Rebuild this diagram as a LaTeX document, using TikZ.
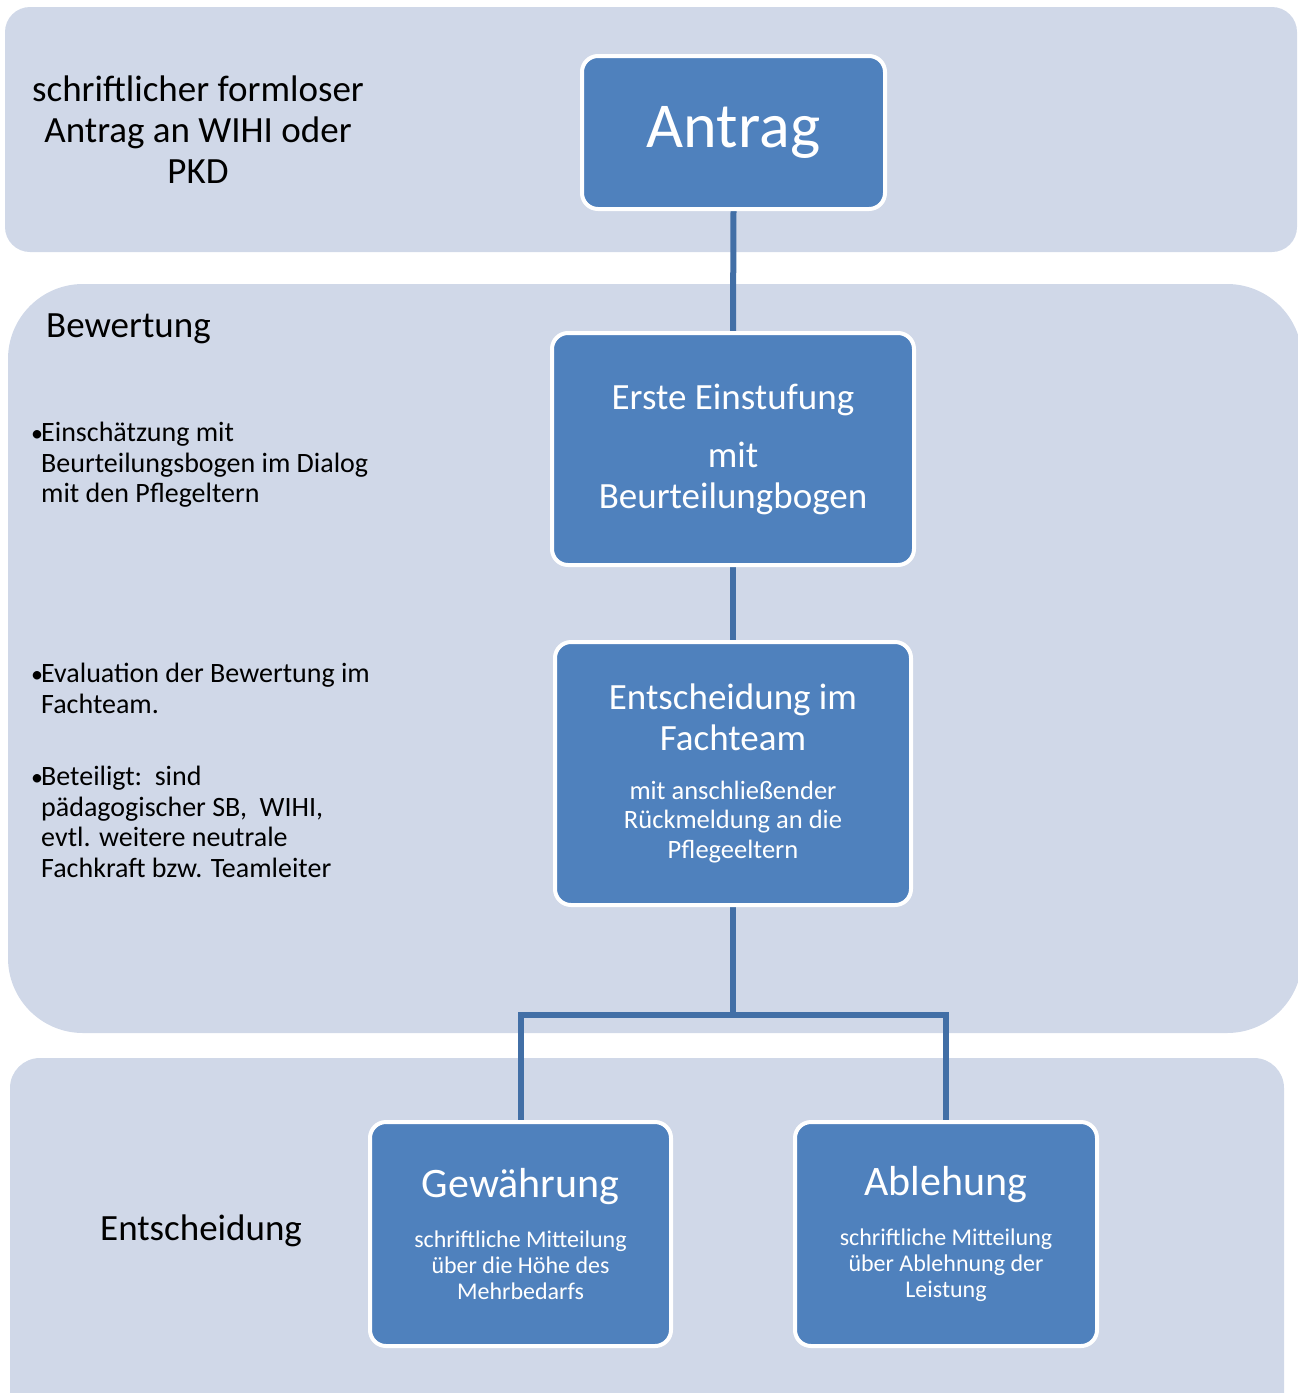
\documentclass[tikz,border=0pt]{standalone}
\usepackage{fontspec}
\setmainfont{Carlito}
\usepackage{tikz}
\usetikzlibrary{backgrounds}
\definecolor{BandGrey}{HTML}{D0D8E8}
\definecolor{BoxBlue}{HTML}{4F81BD}
\definecolor{LinkBlue}{HTML}{426FA6}
\pgfdeclarelayer{links}
\pgfsetlayers{background,links,main}
\newcommand{\bulletline}{\leftskip=11pt\noindent\llap{\makebox[11pt][l]{\hspace{1pt}\fontsize{24}{24}\selectfont •}}}
\tikzset{
  % Box styles
  stagebox/.style={rectangle, rounded corners=16pt, draw=white, line width=4pt, fill=BoxBlue, text=white, align=flush center, inner sep=0pt, font={\fontsize{37}{41}\selectfont}},
  bandbox/.style={fill=BandGrey},
  % Text styles
  sidetext/.style={inner sep=0pt, text=black, align=flush left, font={\fontsize{37}{41}\selectfont}},
  pointtext/.style={sidetext, anchor=north west, text width=370pt, font={\fontsize{28}{30.5}\selectfont}},
  % Arrow styles
  link/.style={draw=LinkBlue, line width=6pt}
}

\begin{document}
\begin{tikzpicture}[x=1pt, y=-1pt]
  \useasboundingbox (0,0) rectangle (1298,1393);
  \clip (0,0) rectangle (1298,1393);

  % Bands
  \begin{scope}[on background layer]
    \fill[bandbox, rounded corners=25pt] (5,7) rectangle (1297,252);
    \fill[bandbox, rounded corners=75pt] (8,284) rectangle (1302,1033);
    \fill[bandbox, rounded corners=30pt] (10,1058) rectangle (1284,1430);
  \end{scope}

  % Left column texts
  \node[sidetext, align=center] (antragtext) at (198,130)
    {schriftlicher formloser\\Antrag an WIHI oder\\PKD};
  \node[sidetext, anchor=base west] (bewertung) at (46,337) {Bewertung};
  \node[pointtext] (punkteins) at (30,422)
    {\bulletline Einschätzung mit\\Beurteilungsbogen im Dialog\\mit den Pflegeltern\par};
  \node[pointtext] (punktzwei) at (30,663)
    {\bulletline Evaluation der Bewertung im\\Fachteam.\par};
  \node[pointtext] (punktdrei) at (30,766)
    {\bulletline Beteiligt:\ \ sind\\pädagogischer SB,\ \ WIHI,\\evtl. weitere neutrale\\Fachkraft bzw. Teamleiter\par};
  \node[sidetext, anchor=base west] (entscheidung) at (100,1240) {Entscheidung};

  % Process boxes
  \node[stagebox, minimum width=303pt, minimum height=153pt, font={\fontsize{64}{70}\selectfont}] (antrag) at (733.5,132.5) {Antrag};
  \node[stagebox, minimum width=362pt, minimum height=232pt, text width=300pt] (einstufung) at (733,449)
    {Erste Einstufung\\[17pt]mit\\Beurteilungbogen\par};
  \node[stagebox, minimum width=356pt, minimum height=263pt, text width=320pt] (fachteam) at (733,773.5)
    {Entscheidung im\\Fachteam\par\vspace{19pt}
     {\fontsize{26.5}{29.5}\selectfont mit anschließender\\Rückmeldung an die\\Pflegeeltern\par}};
  \node[stagebox, minimum width=301pt, minimum height=224pt, text width=270pt] (gewaehrung) at (520.5,1234)
    {{\fontsize{42}{46}\selectfont Gewährung\par}\vspace{24pt}
     {\fontsize{24}{26}\selectfont schriftliche Mitteilung\\über die Höhe des\\Mehrbedarfs\par}};
  \node[stagebox, minimum width=302pt, minimum height=224pt, text width=270pt] (ablehnung) at (946,1234)
    {{\fontsize{42}{46}\selectfont Ablehung\par}\vspace{24pt}
     {\fontsize{24}{26}\selectfont schriftliche Mitteilung\\über Ablehnung der\\Leistung\par}};

  % Connectors
  \coordinate (verteiler) at (733,1015);
  \begin{pgfonlayer}{links}
    \draw[link] (antrag.south) -- (einstufung.north);
    \draw[link] (einstufung.south) -- (fachteam.north);
    \draw[link] (fachteam.south) -- (verteiler);
    \draw[link] (verteiler) -| (gewaehrung.north);
    \draw[link] (verteiler) -| (ablehnung.north);
  \end{pgfonlayer}
\end{tikzpicture}
\end{document}
